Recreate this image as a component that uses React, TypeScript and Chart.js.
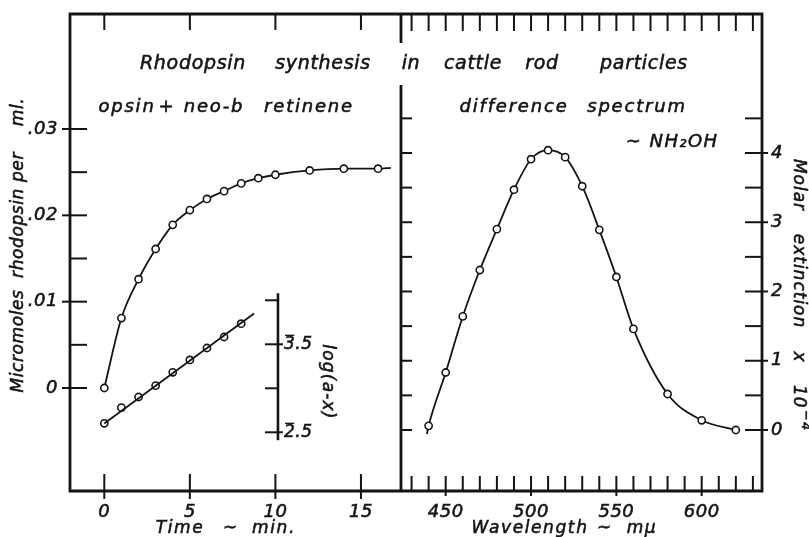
import React, { useEffect, useRef } from 'react';
import { Chart, registerables } from 'chart.js';

Chart.register(...registerables);

// ---------------- data ----------------
const timeMin = [0, 1, 2, 3, 4, 5, 6, 7, 8, 9, 10, 12, 14, 16];
const rhodopsinMicromoles = [0, 0.0081, 0.0126, 0.0161, 0.0189, 0.0206, 0.0219, 0.0228, 0.0237, 0.0243, 0.0247, 0.0252, 0.0254, 0.0254];
const rhodopsinCurveEnd = [16.75, 0.0255];

const logTimeMin = [0, 1, 2, 3, 4, 5, 6, 7, 8];
const logAminusX = [-1.602, -1.78, -1.901, -2.03, -2.182, -2.322, -2.458, -2.583, -2.734];
const logFitTime = [0, 8.75];
const logFitValue = [-1.6, -2.85];

const wavelengthNm = [440, 450, 460, 470, 480, 490, 500, 510, 520, 530, 540, 550, 560, 580, 600, 620];
const molarExtinction = [0.06, 0.83, 1.64, 2.31, 2.9, 3.47, 3.91, 4.04, 3.94, 3.52, 2.89, 2.21, 1.46, 0.52, 0.14, 0.0];
const spectrumLineStart = [439, -0.06];

// ---------------- ticks ----------------
const timeTicks = [0, 5, 10, 15];
const timeTickLabels = ['0', '5', '10', '15'];
const microMajorTicks = [0, 0.01, 0.02, 0.03];
const microTickLabels = ['0', '.01', '.02', '.03'];
const microMinorTicks = [0.005, 0.015, 0.025];
const waveTicks = [430, 440, 450, 460, 470, 480, 490, 500, 510, 520, 530, 540, 550, 560, 570, 580, 590, 600, 610, 620, 630];
const waveLabelTicks = [450, 500, 550, 600];
const extMajorTicks = [0, 1, 2, 3, 4];
const extMinorTicks = [0.5, 1.5, 2.5, 3.5, 4.5];
const logTicks = [-3, -2.5, -2, -1.5];
const logLabelTicks = [-2.5, -1.5];
const logLabelCharacteristic = ['3', '2'];
const logLabelMantissa = ['.5', '.5'];
const logAxisRange = [-3.08, -1.41];
const logAxisTime = 10.15;
const dividerWave = 423.8;

const INK = '#141414';
const FONT = "'DejaVu Sans', sans-serif";

function seg(ctx: CanvasRenderingContext2D, x1: number, y1: number, x2: number, y2: number) {
  ctx.beginPath();
  ctx.moveTo(x1, y1);
  ctx.lineTo(x2, y2);
  ctx.stroke();
}

function setFont(ctx: any, size: number, spacing: number) {
  ctx.font = `italic ${size}px ${FONT}`;
  try { ctx.letterSpacing = spacing + 'px'; } catch (e) { /* ignore */ }
}

function txt(ctx: CanvasRenderingContext2D, s: string, x: number, y: number) {
  ctx.fillText(s, x, y);
  ctx.strokeText(s, x, y);
}

function hWords(ctx: CanvasRenderingContext2D, list: [string, number][], y: number) {
  ctx.textAlign = 'center';
  ctx.textBaseline = 'alphabetic';
  for (const [w, cx] of list) txt(ctx, w, cx, y);
}

function vWords(ctx: CanvasRenderingContext2D, list: [string, number][], x: number, angle: number) {
  ctx.textAlign = 'center';
  ctx.textBaseline = 'middle';
  for (const [w, c] of list) {
    ctx.save();
    ctx.translate(x, c);
    ctx.rotate(angle);
    txt(ctx, w, 0, 0);
    ctx.restore();
  }
}

const decorPlugin = {
  id: 'decor',
  afterDraw(chart: any) {
    const ctx: CanvasRenderingContext2D = chart.ctx;
    const { left, top, right, bottom } = chart.chartArea;
    const xT = chart.scales.xT;
    const xW = chart.scales.xW;
    const yL = chart.scales.yL;
    const yLog = chart.scales.yLog;
    const yE = chart.scales.yE;
    ctx.save();
    ctx.strokeStyle = INK;
    ctx.fillStyle = INK;
    ctx.lineCap = 'butt';

    // frame
    ctx.lineWidth = 2.8;
    ctx.beginPath();
    ctx.moveTo(left, top);
    ctx.lineTo(right, top);
    ctx.lineTo(right, bottom);
    ctx.lineTo(left, bottom);
    ctx.closePath();
    ctx.stroke();

    // divider between panels
    const dx = xW.getPixelForValue(dividerWave);
    seg(ctx, dx, top, dx, top + 29);
    seg(ctx, dx, top + 71, dx, bottom);

    ctx.lineWidth = 2;
    for (const v of microMajorTicks) {
      const y = yL.getPixelForValue(v);
      seg(ctx, left - 8, y, left + 17, y);
    }
    for (const v of microMinorTicks) {
      const y = yL.getPixelForValue(v);
      seg(ctx, left, y, left + 17, y);
    }
    for (const t of timeTicks) {
      const x = xT.getPixelForValue(t);
      seg(ctx, x, bottom + 8, x, bottom - 17);
      seg(ctx, x, top, x, top + 16);
    }
    for (const w of waveTicks) {
      const x = xW.getPixelForValue(w);
      const lab = waveLabelTicks.includes(w);
      seg(ctx, x, bottom + (lab ? 5 : 0), x, bottom - 15);
      seg(ctx, x, top, x, top + 17);
    }
    for (const v of extMajorTicks) {
      const y = yE.getPixelForValue(v);
      seg(ctx, right - 17, y, right + 6, y);
      seg(ctx, dx, y, dx + 11, y);
    }
    for (const v of extMinorTicks) {
      const y = yE.getPixelForValue(v);
      seg(ctx, right - 17, y, right, y);
      seg(ctx, dx, y, dx + 11, y);
    }

    // inset log axis
    const ax = xT.getPixelForValue(logAxisTime);
    ctx.lineWidth = 2.6;
    seg(ctx, ax, yLog.getPixelForValue(logAxisRange[0]), ax, yLog.getPixelForValue(logAxisRange[1]));
    ctx.lineWidth = 2;
    for (const v of logTicks) {
      const y = yLog.getPixelForValue(v);
      const lab = logLabelTicks.includes(v);
      seg(ctx, ax - 13, y, ax + (lab ? 5 : 0), y);
    }

    // text strokes (thin, to mimic lettering weight)
    ctx.lineWidth = 0.55;

    setFont(ctx, 18, 0.5);
    ctx.textAlign = 'right';
    ctx.textBaseline = 'middle';
    microMajorTicks.forEach((v, i) => txt(ctx, microTickLabels[i], left - 12, yL.getPixelForValue(v)));
    ctx.textAlign = 'center';
    timeTicks.forEach((t, i) => txt(ctx, timeTickLabels[i], xT.getPixelForValue(t), bottom + 21));
    waveLabelTicks.forEach((w) => txt(ctx, String(w), xW.getPixelForValue(w), bottom + 21));
    ctx.textAlign = 'left';
    extMajorTicks.forEach((v) => txt(ctx, String(v), right + 9, yE.getPixelForValue(v)));

    setFont(ctx, 17, 0.5);
    ctx.textAlign = 'left';
    ctx.textBaseline = 'middle';
    logLabelTicks.forEach((v, i) => {
      const y = yLog.getPixelForValue(v);
      const c = logLabelCharacteristic[i];
      ctx.lineWidth = 0.55;
      txt(ctx, c + logLabelMantissa[i], ax + 6, y);
      const w = ctx.measureText(c).width;
      ctx.lineWidth = 1.3;
      seg(ctx, ax + 7, y - 9, ax + 5 + w, y - 9);
    });
    ctx.lineWidth = 0.55;

    // annotations
    setFont(ctx, 19, 0.7);
    hWords(ctx, [['Rhodopsin', 193], ['synthesis', 323], ['in', 411], ['cattle', 473], ['rod', 542], ['particles', 644]], 69);
    setFont(ctx, 18, 1.8);
    hWords(ctx, [['opsin', 127], ['+', 167], ['neo-b', 214], ['retinene', 309]], 112);
    hWords(ctx, [['difference', 514], ['spectrum', 637]], 112);
    setFont(ctx, 18, 1.4);
    hWords(ctx, [['~', 634], ['NH\u2082OH', 684]], 147);

    setFont(ctx, 17, 1.6);
    hWords(ctx, [['Time', 180], ['~', 231], ['min.', 274]], 533);
    hWords(ctx, [['Wavelength', 530], ['~', 605], ['m\u03bc', 642]], 533);

    setFont(ctx, 17, 0.6);
    vWords(ctx, [['Micromoles', 341], ['rhodopsin', 233], ['per', 167], ['ml.', 112]], 19, -Math.PI / 2);
    setFont(ctx, 17, 1.0);
    vWords(ctx, [['Molar', 185], ['extinction', 281], ['x', 357]], 798, Math.PI / 2);
    ctx.save();
    ctx.translate(798, 408);
    ctx.rotate(Math.PI / 2);
    ctx.textAlign = 'left';
    ctx.textBaseline = 'middle';
    txt(ctx, '10', -23, 0);
    setFont(ctx, 13, 1);
    txt(ctx, '\u22124', 2, -7);
    ctx.restore();
    setFont(ctx, 17, 1.2);
    vWords(ctx, [['log(a-x)', 382]], 327, Math.PI / 2);

    ctx.restore();
  },
};

export default function App() {
  const ref = useRef<HTMLCanvasElement | null>(null);
  useEffect(() => {
    if (!ref.current) return;
    const markerRadius = (n: number) => Array.from({ length: n }, () => 3.6);
    const pointStyle = {
      pointBackgroundColor: '#ffffff',
      pointBorderColor: INK,
      pointBorderWidth: 1.6,
      pointHoverRadius: 3.6,
    };
    const upper = timeMin.map((t, i) => ({ x: t, y: rhodopsinMicromoles[i] }));
    upper.push({ x: rhodopsinCurveEnd[0], y: rhodopsinCurveEnd[1] });
    const spectrum = [{ x: spectrumLineStart[0], y: spectrumLineStart[1] }].concat(
      wavelengthNm.map((w, i) => ({ x: w, y: molarExtinction[i] }))
    );
    const chart = new Chart(ref.current, {
      type: 'line',
      data: {
        datasets: [
          {
            data: upper,
            xAxisID: 'xT',
            yAxisID: 'yL',
            borderColor: INK,
            borderWidth: 1.8,
            cubicInterpolationMode: 'monotone',
            pointRadius: [...markerRadius(timeMin.length), 0],
            ...pointStyle,
          } as any,
          {
            data: logFitTime.map((t, i) => ({ x: t, y: logFitValue[i] })),
            xAxisID: 'xT',
            yAxisID: 'yLog',
            borderColor: INK,
            borderWidth: 1.8,
            pointRadius: 0,
          } as any,
          {
            data: logTimeMin.map((t, i) => ({ x: t, y: logAminusX[i] })),
            xAxisID: 'xT',
            yAxisID: 'yLog',
            showLine: false,
            pointRadius: 3.6,
            ...pointStyle,
          } as any,
          {
            data: spectrum,
            xAxisID: 'xW',
            yAxisID: 'yE',
            borderColor: INK,
            borderWidth: 1.8,
            cubicInterpolationMode: 'monotone',
            pointRadius: [0, ...markerRadius(wavelengthNm.length)],
            ...pointStyle,
          } as any,
        ],
      },
      options: {
        animation: false,
        responsive: false,
        devicePixelRatio: 1,
        layout: { padding: { left: 70, top: 14, right: 47, bottom: 46 } },
        plugins: { legend: { display: false }, tooltip: { enabled: false }, title: { display: false } },
        events: [],
        scales: {
          x: { type: 'linear', display: false },
          y: { type: 'linear', display: false },
          xT: { type: 'linear', axis: 'x', position: 'bottom', min: -2.005, max: 38.44, display: false },
          xW: { type: 'linear', axis: 'x', position: 'bottom', min: 229.87, max: 635.33, display: false },
          yL: { type: 'linear', axis: 'y', position: 'left', min: -0.01193, max: 0.04332, display: false },
          yLog: { type: 'linear', axis: 'y', position: 'left', reverse: true, min: -6.253, max: -0.833, display: false },
          yE: { type: 'linear', axis: 'y', position: 'right', min: -0.881, max: 6.007, display: false },
        },
      } as any,
      plugins: [decorPlugin],
    });
    return () => chart.destroy();
  }, []);
  return (
    <div style={{ position: 'fixed', left: 0, top: 0, width: 809, height: 537, background: '#fff' }}>
      <canvas ref={ref} width={809} height={537} style={{ display: 'block' }} />
    </div>
  );
}
